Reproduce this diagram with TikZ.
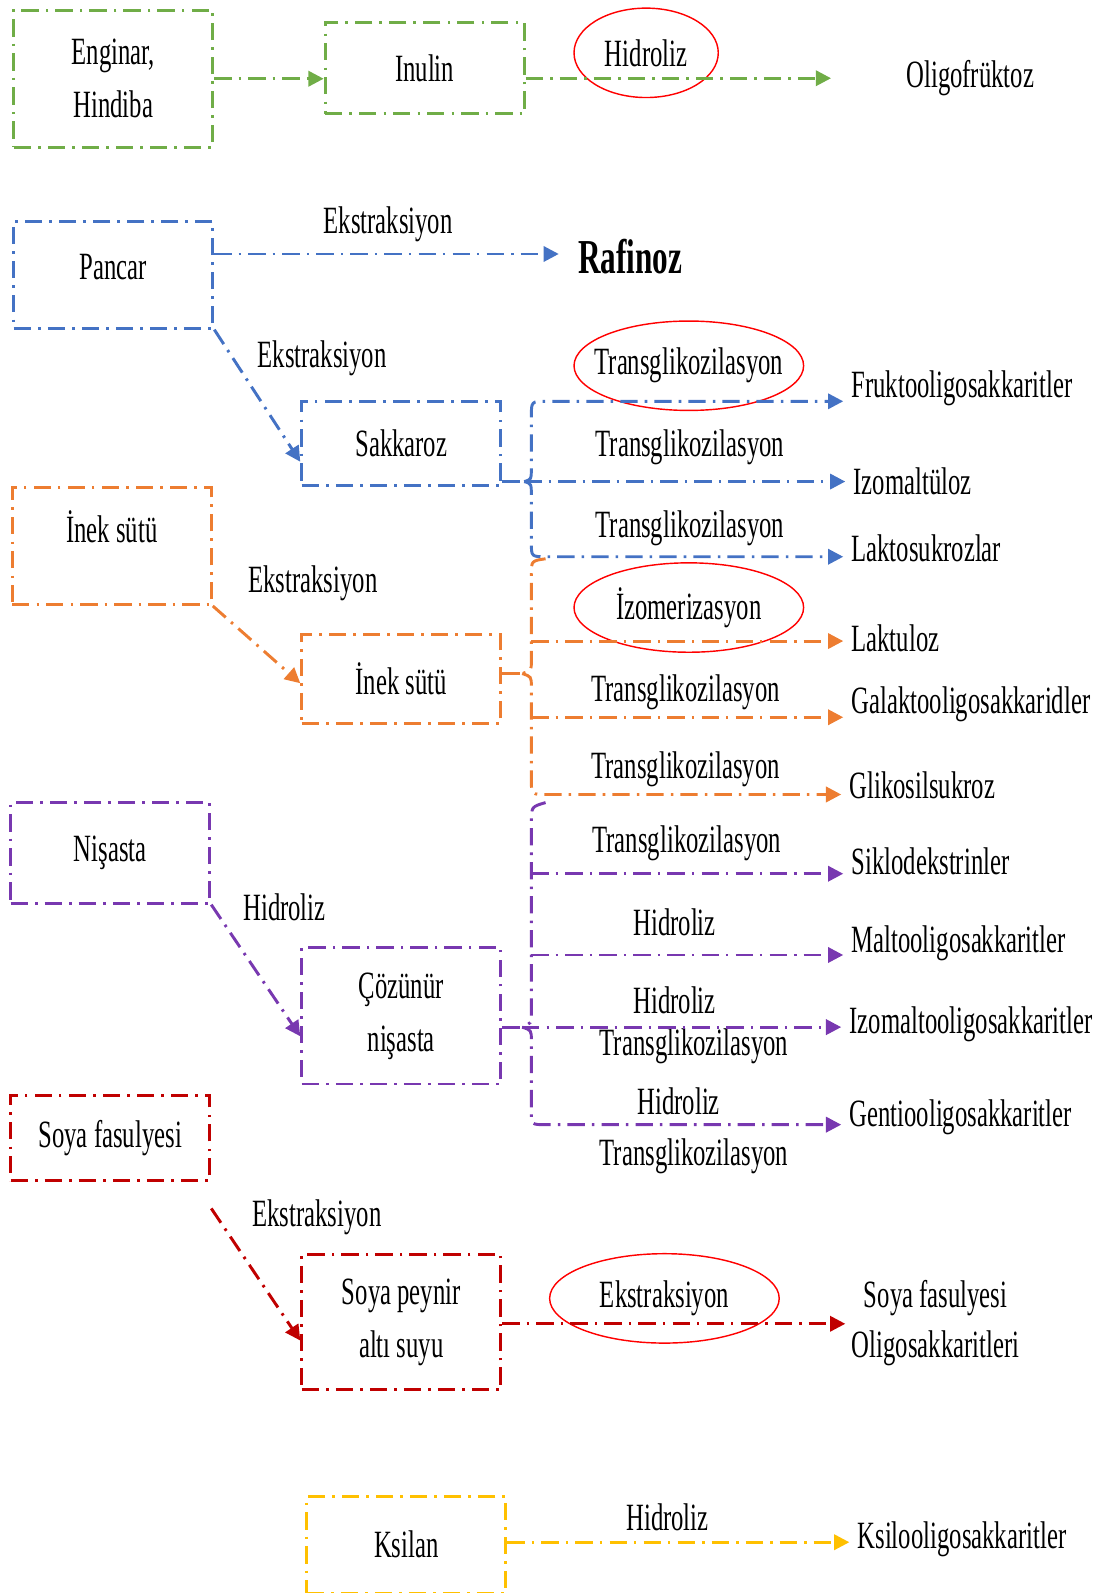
\documentclass[tikz,border=0pt]{standalone}
\usepackage{fontspec}
\setmainfont[FakeStretch=0.64]{Liberation Serif}
\usetikzlibrary{arrows.meta,positioning,shapes.geometric}
\definecolor{grn}{HTML}{70AD47}
\definecolor{blu}{HTML}{4472C4}
\definecolor{org}{HTML}{ED7D31}
\definecolor{prp}{HTML}{7838B0}
\definecolor{rd}{HTML}{C00000}
\definecolor{ylw}{HTML}{FFC000}

\begin{document}
\begin{tikzpicture}[x=1pt, y=-1pt,
  font=\fontsize{38}{52}\selectfont,
  dd/.style={dash pattern=on 17pt off 7pt on 2.5pt off 7pt, line width=2.9pt},
  box/.style={draw=#1, dd, minimum width=196pt, align=center, inner sep=2pt},
  lnk/.style={draw=#1, dd},
  arr/.style={-{Triangle[length=15pt, width=15pt]}},
  oval/.style={draw=red, ellipse, line width=1.4pt, minimum width=#1,
               minimum height=88pt, inner sep=0pt},
  tgt/.style={anchor=west, inner xsep=8pt, inner ysep=2pt}]
\useasboundingbox (0,0) rectangle (1087,1568);

\node[box=grn, minimum height=135pt] (eng) at (111.5,77.5) {Enginar,\\Hindiba};
\node[box=grn, minimum height=90pt] (inu) at (418,67) {Inulin};
\node[oval=142pt] (ohid) at (636,52) {\makebox[0pt]{Hidroliz}};
\node (ofr) at (955,77) {Oligofrüktoz};
\coordinate (g1) at (818,77);
\draw[lnk=grn, arr] (eng.east) -- (eng.east -| inu.west);
\draw[lnk=grn, arr] (inu.east |- g1) -- (g1);

\node[box=blu, minimum height=105pt, text depth=15pt] (pan) at (111.5,270.5) {Pancar};
\node[anchor=west, inner xsep=4pt, font=\fontsize{48}{52}\selectfont\bfseries] (raf) at (565,253) {Rafinoz};
\coordinate (b0) at (550,250);
\draw[lnk=blu, arr] (pan.east |- b0) -- (b0);
\node at (382,221) {Ekstraksiyon};
\node[box=blu, minimum height=83pt] (sak) at (395,436.5) {Sakkaroz};
\draw[lnk=blu, arr] (pan.south east) -- ([yshift=-18pt]sak.west);
\node at (317,353) {Ekstraksiyon};

\node[tgt] (fos) at (830,382) {Fruktooligosakkaritler};
\node[tgt] (izt) at (832,474) {Izomaltüloz};
\node[tgt] (lsk) at (830,540) {Laktosukrozlar};
\node[oval=226pt] at (678,360) {\makebox[0pt]{Transglikozilasyon}};
\node at (679,440) {Transglikozilasyon};
\node at (679,520) {Transglikozilasyon};
\coordinate (bB) at (516,474);
\coordinate (b1) at (523,395);
\coordinate (b3) at (523,548);
\draw[lnk=blu] (sak.east |- bB) -- (bB);
\draw[lnk=blu, arr] (bB) .. controls (523,472) .. (523,460) -- (523,410)
  .. controls (523,395) .. (538,395) -- (b1 -| fos.west);
\draw[lnk=blu, arr] (bB) -- (bB -| izt.west);
\draw[lnk=blu, arr] (bB) .. controls (523,476) .. (523,488) -- (523,534)
  .. controls (523,548) .. (538,548) -- (b3 -| lsk.west);

\node[box=org, minimum height=115pt, text depth=39pt] (ine) at (110,537.5) {İnek sütü};
\node[box=org, minimum height=87pt] (ins) at (395,668.5) {İnek sütü};
\draw[lnk=org, arr] (ine.south east) -- ([yshift=-4pt]ins.west);
\node at (308,574) {Ekstraksiyon};

\node[tgt] (lak) at (830,628) {Laktuloz};
\node[tgt] (gos) at (830,693) {Galaktooligosakkaridler};
\node[tgt] (gls) at (828,773) {Glikosilsukroz};
\node[oval=226pt] at (678,598) {\makebox[0pt]{İzomerizasyon}};
\node at (675,681) {Transglikozilasyon};
\node at (675,757) {Transglikozilasyon};
\coordinate (oB) at (514,663);
\coordinate (o1) at (523,631);
\coordinate (o2) at (523,706);
\coordinate (o3) at (523,782);
\draw[lnk=org] (ins.east |- oB) -- (oB);
\draw[lnk=org] (537,550) .. controls (523,552) .. (523,566) -- (523,651)
  .. controls (523,660) .. (oB);
\draw[lnk=org, arr] (oB) .. controls (523,666) .. (523,676) -- (523,768)
  .. controls (523,782) .. (538,782) -- (o3 -| gls.west);
\draw[lnk=org, arr] (o1) -- (o1 -| lak.west);
\draw[lnk=org, arr] (o2) -- (o2 -| gos.west);

\node[box=prp, minimum height=99pt] (nis) at (108.5,839.5) {Nişasta};
\node[box=prp, minimum height=134pt] (coz) at (395,1000) {Çözünür\\nişasta};
\draw[lnk=prp, arr] (nis.south east) -- ([yshift=-20pt]coz.west);
\node at (280,893) {Hidroliz};

\node[tgt] (sik) at (830,848) {Siklodekstrinler};
\node[tgt] (mos) at (830,928) {Maltooligosakkaritler};
\node[tgt] (imo) at (828,1008) {Izomaltooligosakkaritler};
\node[tgt] (gen) at (828,1100) {Gentiooligosakkaritler};
\node at (676,830) {Transglikozilasyon};
\node at (664,908) {Hidroliz};
\node at (664,985) {Hidroliz};
\node at (683,1030) {Transglikozilasyon};
\node at (668,1084) {Hidroliz};
\node at (683,1138) {Transglikozilasyon};
\coordinate (pB) at (514,1011);
\coordinate (p1) at (523,860);
\coordinate (p2) at (523,940);
\coordinate (p4) at (523,1107);
\draw[lnk=prp] (coz.east |- pB) -- (pB);
\draw[lnk=prp] (537,790) .. controls (523,794) .. (523,810) -- (523,999)
  .. controls (523,1007) .. (pB);
\draw[lnk=prp, arr] (pB) .. controls (523,1014) .. (523,1024) -- (523,1094)
  .. controls (523,1107) .. (537,1107) -- (p4 -| gen.west);
\draw[lnk=prp, arr] (pB) -- (pB -| imo.west);
\draw[lnk=prp, arr] (p1) -- (p1 -| sik.west);
\draw[lnk=prp, arr] (p2) -- (p2 -| mos.west);

\node[box=rd, minimum height=84pt] (sfa) at (108.5,1120) {Soya fasulyesi};
\node[box=rd, minimum height=133pt] (spa) at (395,1301.5) {Soya peynir\\altı suyu};
\draw[lnk=rd, arr] ([yshift=-26pt]sfa.south east) -- ([yshift=-18pt]spa.west);
\node at (312,1198) {Ekstraksiyon};
\node[oval=226pt] at (654,1278) {\makebox[0pt]{Ekstraksiyon}};
\node[align=center, font=\fontsize{38}{49}\selectfont] (sfo) at (921,1302) {Soya fasulyesi\\Oligosakkaritleri};
\coordinate (r1) at (832,1303);
\draw[lnk=rd, arr] (spa.east |- r1) -- (r1);

\node[box=ylw, minimum height=95pt] (ksi) at (400,1520.5) {Ksilan};
\node[tgt] (xos) at (836,1515) {Ksilooligosakkaritler};
\coordinate (y1) at (836,1518);
\draw[lnk=ylw, arr] (ksi.east |- y1) -- (y1 -| xos.west);
\node at (657,1493) {Hidroliz};
\end{tikzpicture}
\end{document}
